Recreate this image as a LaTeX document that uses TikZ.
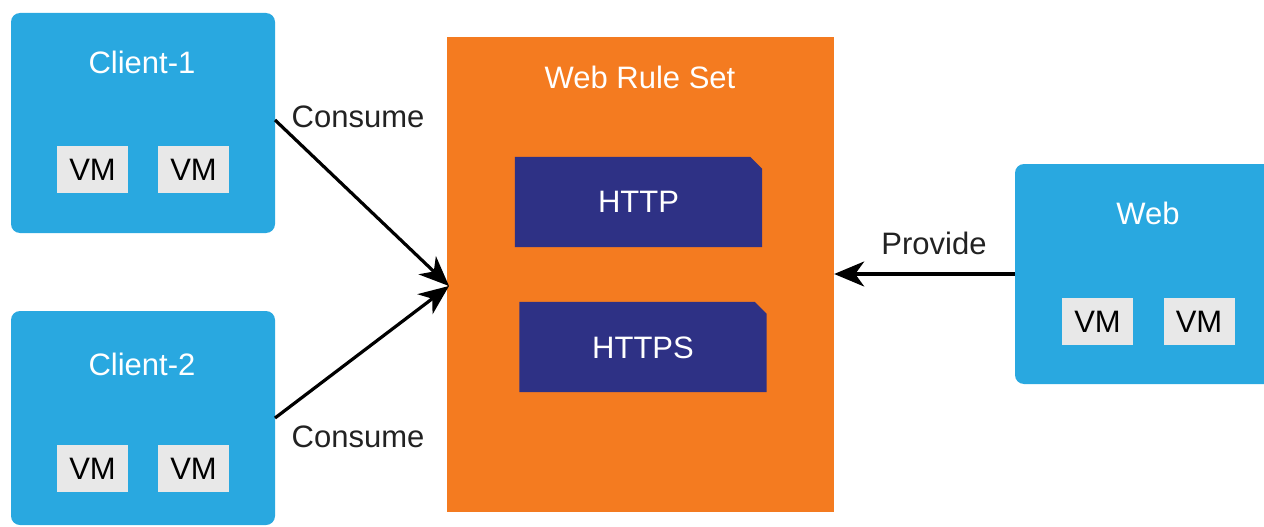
\documentclass[tikz,border=0pt]{standalone}
\usepackage{fontspec}
\setmainfont{Liberation Sans}
\usetikzlibrary{arrows.meta}
\definecolor{cblue}{HTML}{29A8E0}
\definecolor{corange}{HTML}{F47B20}
\definecolor{cnavy}{HTML}{2E3185}
\definecolor{cvm}{HTML}{E8E8E8}
\definecolor{ctext}{HTML}{222222}
\begin{document}
\begin{tikzpicture}[x=1pt,y=-1pt,
  group/.style={rectangle, fill=cblue, rounded corners=9pt, inner sep=0pt},
  vmbox/.style={rectangle, fill=cvm, minimum width=71pt, minimum height=47pt, inner sep=0pt, text=black, font=\fontsize{31}{34}\selectfont},
  title/.style={text=white, font=\fontsize{31}{34}\selectfont, inner sep=0pt},
  lbl/.style={text=ctext, font=\fontsize{31}{34}\selectfont, inner sep=0pt},
  rule/.style={rectangle, inner sep=0pt, minimum width=247pt, minimum height=90pt, text=white, font=\fontsize{31}{34}\selectfont},
  conn/.style={line width=3.2pt, draw=black, -{Stealth[length=30pt,width=25pt,inset=9pt]}}]
\useasboundingbox (0,0) rectangle (1264,527);
\fill[white] (0,0) rectangle (1264,527);
% groups
\node[group, minimum width=264pt, minimum height=220pt] (c1) at (143,123) {};
\node[group, minimum width=264pt, minimum height=214pt] (c2) at (143,418) {};
\node[group, minimum width=262pt, minimum height=220pt] (web) at (1146,274) {};
\node[title] (c1t) at (142,62) {Client-1};
\node[title] (c2t) at (142,364) {Client-2};
\node[title] (webt) at (1148,213) {Web};
\node[vmbox] (c1v1) at (92.5,169.5) {VM};
\node[vmbox] (c1v2) at (193.5,169.5) {VM};
\node[vmbox] (c2v1) at (92.5,468.5) {VM};
\node[vmbox] (c2v2) at (193.5,468.5) {VM};
\node[vmbox] (wv1) at (1097.5,321.5) {VM};
\node[vmbox] (wv2) at (1199,321.5) {VM};
% rule set
\node[rectangle, fill=corange, minimum width=387pt, minimum height=475pt, inner sep=0pt] (rs) at (640.5,274.5) {};
\node[title] (rst) at (640,77) {Web Rule Set};
\node[rule] (http) at (638.5,202) {};
\fill[cnavy] (http.south west) -- (http.north west) -- ([xshift=-12pt]http.north east) -- ([yshift=-12pt]http.north east) -- (http.south east) -- cycle;
\node[title] (httpt) at (http.center) {HTTP};
\node[rule] (https) at (643,347) {};
\fill[cnavy] (https.south west) -- (https.north west) -- ([xshift=-12pt]https.north east) -- ([yshift=-12pt]https.north east) -- (https.south east) -- cycle;
\node[title] (httpst) at ([yshift=-1pt]https.center) {HTTPS};
% connectors
\coordinate (hit) at (449,286);
\coordinate (c1out) at (275,120);
\coordinate (c2out) at (275,418);
\draw[conn] (c1out) -- (hit);
\draw[conn] (c2out) -- (hit);
\draw[conn] (web.west) -- (rs.east |- web.west);
% labels
\node[lbl] (l1) at (358,117) {Consume};
\node[lbl] (l2) at (358,437) {Consume};
\node[lbl] (l3) at (934,243) {Provide};
\end{tikzpicture}
\end{document}
